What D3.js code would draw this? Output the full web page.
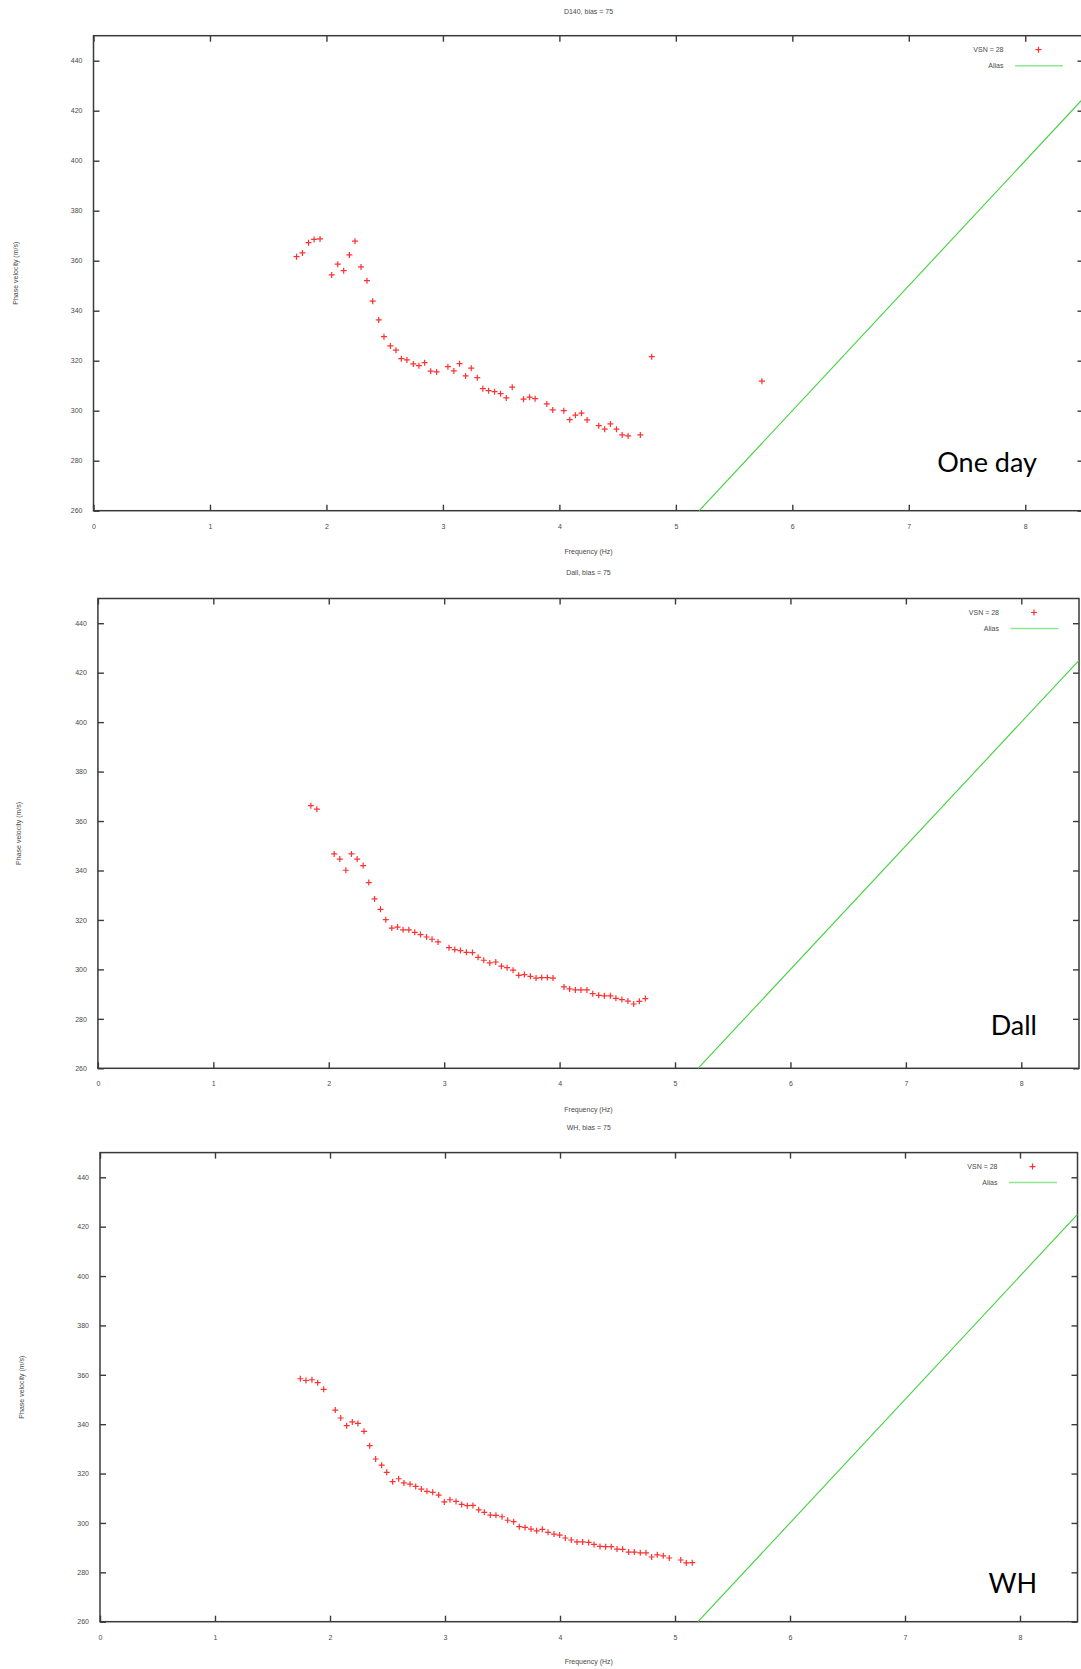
<!DOCTYPE html>
<html>
<head>
<meta charset="utf-8">
<script src="https://cdn.jsdelivr.net/npm/d3@7"></script>
<style>
  body { margin: 0; background: #fff; }
  svg { display: block; }
</style>
</head>
<body>
<svg id="chart" width="1081" height="1669"></svg>
<script>
// ---- Data ----------------------------------------------------------------
const panelTitles = ["D140, bias = 75", "Dall, bias = 75", "WH, bias = 75"];
const caseLabels = ["One day", "Dall", "WH"];
const legendLabels = ["VSN = 28", "Alias"];
const xAxisTitle = "Frequency (Hz)";
const yAxisTitle = "Phase velocity (m/s)";

const xTickValues = [0, 1, 2, 3, 4, 5, 6, 7, 8];
const yTickValues = [260, 280, 300, 320, 340, 360, 380, 400, 420, 440];
const xDomain = [0, 8.5];
const yDomain = [260, 450];

// Alias limit line (frequency, phase velocity)
const aliasFreq = [5.2, 8.5];
const aliasVel = [260, 425];

// One day
const freqOneDay = [1.743, 1.794, 1.846, 1.894, 1.945, 2.045, 2.097, 2.148, 2.197, 2.245,
  2.297, 2.348, 2.397, 2.449, 2.494, 2.549, 2.597, 2.643, 2.691, 2.746,
  2.794, 2.843, 2.895, 2.946, 3.043, 3.094, 3.143, 3.195, 3.243, 3.295,
  3.343, 3.392, 3.443, 3.495, 3.544, 3.595, 3.692, 3.744, 3.792, 3.892,
  3.943, 4.038, 4.089, 4.138, 4.190, 4.238, 4.338, 4.389, 4.438, 4.490,
  4.539, 4.590, 4.695, 4.793, 5.739];
const velOneDay = [361.6, 363.1, 367.2, 368.5, 368.7, 354.3, 358.6, 356.0, 362.3, 367.8,
  357.5, 352.0, 343.8, 336.3, 329.6, 325.9, 324.2, 320.8, 320.3, 318.7,
  318.0, 319.2, 315.8, 315.5, 317.6, 315.9, 318.8, 313.9, 317.0, 313.2,
  308.8, 308.0, 307.6, 306.8, 305.1, 309.4, 304.6, 305.4, 304.8, 302.7,
  300.3, 300.0, 296.4, 298.2, 299.0, 296.3, 294.0, 292.6, 294.7, 292.6,
  290.3, 289.9, 290.3, 321.6, 311.8];

// Dall
const freqDall = [1.845, 1.897, 2.047, 2.096, 2.148, 2.197, 2.246, 2.298, 2.347, 2.397,
  2.448, 2.494, 2.546, 2.596, 2.644, 2.694, 2.745, 2.795, 2.847, 2.895,
  2.947, 3.042, 3.092, 3.141, 3.193, 3.245, 3.294, 3.343, 3.395, 3.447,
  3.496, 3.545, 3.597, 3.646, 3.695, 3.747, 3.796, 3.845, 3.894, 3.943,
  4.038, 4.087, 4.137, 4.185, 4.237, 4.287, 4.339, 4.388, 4.440, 4.488,
  4.540, 4.592, 4.642, 4.691, 4.743];
const velDall = [366.2, 364.8, 346.7, 344.6, 340.1, 346.7, 344.6, 342.0, 335.1, 328.5,
  324.3, 320.1, 316.7, 317.1, 316.0, 316.0, 315.0, 314.1, 313.1, 312.2,
  311.1, 308.8, 308.0, 307.6, 306.9, 306.8, 304.9, 303.7, 302.6, 303.0,
  301.3, 300.7, 299.7, 297.6, 297.9, 297.2, 296.5, 296.7, 296.7, 296.5,
  292.9, 292.1, 291.7, 291.7, 291.7, 290.2, 289.5, 289.3, 289.3, 288.3,
  287.8, 287.2, 286.0, 287.1, 288.2];

// WH
const freqWH = [1.742, 1.791, 1.843, 1.893, 1.945, 2.046, 2.093, 2.145, 2.194, 2.243,
  2.296, 2.345, 2.397, 2.449, 2.493, 2.545, 2.597, 2.643, 2.696, 2.745,
  2.794, 2.843, 2.893, 2.945, 2.994, 3.043, 3.096, 3.145, 3.194, 3.243,
  3.293, 3.342, 3.394, 3.443, 3.496, 3.545, 3.597, 3.646, 3.696, 3.748,
  3.797, 3.846, 3.896, 3.948, 3.997, 4.046, 4.098, 4.148, 4.197, 4.249,
  4.296, 4.348, 4.397, 4.446, 4.496, 4.545, 4.597, 4.646, 4.698, 4.748,
  4.797, 4.846, 4.898, 4.950, 5.050, 5.098, 5.150];
const velWH = [358.4, 357.7, 358.0, 356.8, 354.1, 345.7, 342.5, 339.4, 340.9, 340.3,
  337.1, 331.3, 325.9, 323.4, 320.5, 316.7, 317.9, 316.2, 315.7, 314.8,
  313.7, 312.8, 312.4, 311.3, 308.5, 309.4, 308.7, 307.5, 307.0, 307.1,
  305.3, 304.3, 303.2, 303.1, 302.5, 301.1, 300.5, 298.5, 298.2, 297.5,
  296.8, 297.4, 296.2, 295.5, 295.1, 293.9, 293.1, 292.3, 292.3, 292.1,
  291.3, 290.5, 290.4, 290.4, 289.4, 289.3, 288.2, 288.2, 287.9, 287.9,
  286.2, 287.1, 286.7, 285.8, 285.0, 283.8, 283.9];

const panelFreqs = [freqOneDay, freqDall, freqWH];
const panelVels = [velOneDay, velDall, velWH];

// ---- Layout (pixel geometry of each plot frame) ----------------------------
const layouts = [
  { left: 93.5, right: 1083.5, top: 35.7,   bottom: 510.7,  titleY: 13.5,   xLabelY: 553.5,  yLabelX: 16,   caseY: 472 },
  { left: 97.9, right: 1079,   top: 598.5,  bottom: 1068.3, titleY: 575,    xLabelY: 1111.5, yLabelX: 19,   caseY: 1035 },
  { left: 100,  right: 1077.5, top: 1152.6, bottom: 1621.7, titleY: 1129.5, xLabelY: 1664,   yLabelX: 21.5, caseY: 1593 }
];

const COLORS = { frame: "#3a3a3a", text: "#4a4a4a", points: "#ff3030", alias: "#3fd23f" };
const smallFont = "'Liberation Sans', Arial, sans-serif";

const svg = d3.select("#chart");

layouts.forEach((L, i) => {
  const x = d3.scaleLinear().domain(xDomain).range([L.left, L.right]);
  const y = d3.scaleLinear().domain(yDomain).range([L.bottom, L.top]);
  const g = svg.append("g").attr("class", "panel");
  const midX = (L.left + L.right) / 2;
  const midY = (L.top + L.bottom) / 2;

  // Bottom axis with labels, ticks pointing inward
  const xAxis = g.append("g").attr("transform", `translate(0,${L.bottom})`)
    .call(d3.axisBottom(x).tickValues(xTickValues).tickSizeInner(-6).tickSizeOuter(0).tickPadding(13));
  // Left axis with labels
  const yAxis = g.append("g").attr("transform", `translate(${L.left},0)`)
    .call(d3.axisLeft(y).tickValues(yTickValues).tickSizeInner(-6).tickSizeOuter(0).tickPadding(11));
  // Mirrored ticks on top and right
  const xTop = g.append("g").attr("transform", `translate(0,${L.top})`)
    .call(d3.axisTop(x).tickValues(xTickValues).tickSizeInner(-6).tickSizeOuter(0).tickFormat(""));
  const yRight = g.append("g").attr("transform", `translate(${L.right},0)`)
    .call(d3.axisRight(y).tickValues(yTickValues).tickSizeInner(-6).tickSizeOuter(0).tickFormat(""));

  [xAxis, yAxis, xTop, yRight].forEach(a => {
    a.select(".domain").remove();
    a.selectAll(".tick line").attr("stroke", COLORS.frame).attr("stroke-width", 1.4);
    a.selectAll(".tick text").attr("fill", COLORS.text).style("font-family", smallFont).style("font-size", "7px");
  });

  // Frame
  g.append("rect")
    .attr("x", L.left).attr("y", L.top)
    .attr("width", L.right - L.left).attr("height", L.bottom - L.top)
    .attr("fill", "none").attr("stroke", COLORS.frame).attr("stroke-width", 1.5);

  // Alias line
  const aliasPts = aliasFreq.map((f, k) => [f, aliasVel[k]]);
  g.append("path")
    .datum(aliasPts)
    .attr("d", d3.line().x(d => x(d[0])).y(d => y(d[1])))
    .attr("fill", "none").attr("stroke", COLORS.alias).attr("stroke-width", 1.1);

  // Dispersion picks as '+' markers
  const pts = panelFreqs[i].map((f, k) => [f, panelVels[i][k]]);
  g.append("g").selectAll("path").data(pts).join("path")
    .attr("transform", d => `translate(${x(d[0])},${y(d[1])})`)
    .attr("d", "M-3,0H3M0,-3V3")
    .attr("stroke", COLORS.points).attr("stroke-width", 1.2).attr("fill", "none");

  // Titles and axis labels
  g.append("text").attr("x", midX).attr("y", L.titleY)
    .attr("text-anchor", "middle").attr("fill", COLORS.text)
    .style("font-family", smallFont).style("font-size", "7px")
    .text(panelTitles[i]);
  g.append("text").attr("x", midX).attr("y", L.xLabelY)
    .attr("text-anchor", "middle").attr("fill", COLORS.text)
    .style("font-family", smallFont).style("font-size", "7px")
    .text(xAxisTitle);
  g.append("text")
    .attr("transform", `translate(${L.yLabelX},${midY}) rotate(-90)`)
    .attr("text-anchor", "middle").attr("dy", "0.35em").attr("fill", COLORS.text)
    .style("font-family", smallFont).style("font-size", "7px")
    .text(yAxisTitle);

  // Legend
  const lg = g.append("g");
  const row1 = L.top + 14, row2 = L.top + 30;
  lg.append("text").attr("x", L.right - 80).attr("y", row1).attr("dy", "0.35em")
    .attr("text-anchor", "end").attr("fill", COLORS.text)
    .style("font-family", smallFont).style("font-size", "7px").text(legendLabels[0]);
  lg.append("path").attr("transform", `translate(${L.right - 45},${row1})`)
    .attr("d", "M-3,0H3M0,-3V3").attr("stroke", COLORS.points).attr("stroke-width", 1.2);
  lg.append("text").attr("x", L.right - 80).attr("y", row2).attr("dy", "0.35em")
    .attr("text-anchor", "end").attr("fill", COLORS.text)
    .style("font-family", smallFont).style("font-size", "7px").text(legendLabels[1]);
  lg.append("line").attr("x1", L.right - 68.5).attr("x2", L.right - 20.5)
    .attr("y1", row2).attr("y2", row2)
    .attr("stroke", "#8fe88f").attr("stroke-width", 1.5);

  // Case label
  g.append("text").attr("x", 1037).attr("y", L.caseY)
    .attr("text-anchor", "end").attr("fill", "#000")
    .style("font-family", "Lato, 'Open Sans', sans-serif").style("font-size", "27px")
    .text(caseLabels[i]);
});
</script>
</body>
</html>
